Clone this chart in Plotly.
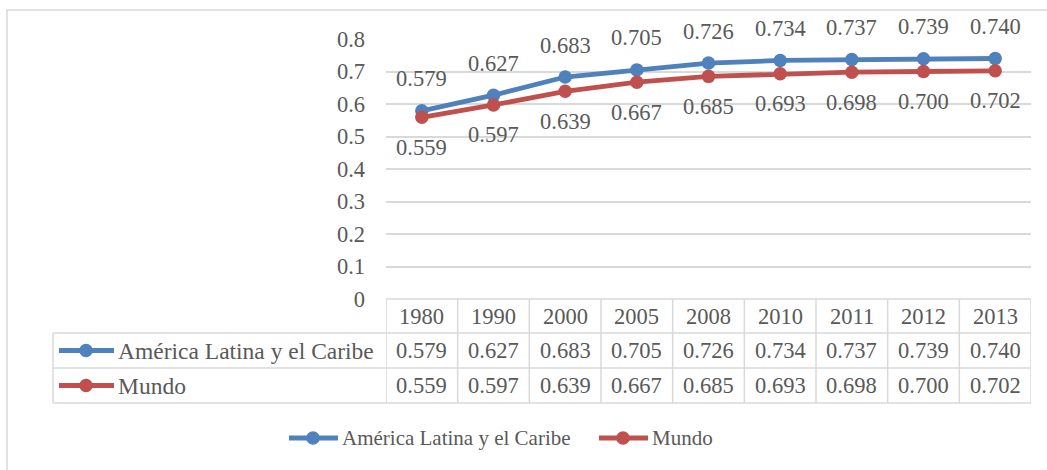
import plotly.graph_objects as go

years = ["1980", "1990", "2000", "2005", "2008", "2010", "2011", "2012", "2013"]
series_names = ["América Latina y el Caribe", "Mundo"]
latam = [0.579, 0.627, 0.683, 0.705, 0.726, 0.734, 0.737, 0.739, 0.740]
mundo = [0.559, 0.597, 0.639, 0.667, 0.685, 0.693, 0.698, 0.700, 0.702]
y_ticks = [0, 0.1, 0.2, 0.3, 0.4, 0.5, 0.6, 0.7, 0.8]

colors = ["#4F81BD", "#C0504D"]
text_color = "#595959"
grid_color = "#D9D9D9"
border_color = "#D9D9D9"
FONT = '"Liberation Serif", "Times New Roman", serif'
FS = 22.5      # axis, table and data-label text
FS_ROW = 23.5  # series names in the data table
FS_LEG = 21    # bottom legend text

W, H = 1047, 470
L, R, T, B = 386, 16, 39, 171
plot_w = W - L - R
plot_h = H - T - B


def xp(px):
    return (px - L) / plot_w


def yp(py):
    return (H - B - py) / plot_h


fig = go.Figure()
all_series = [latam, mundo]
idx = list(range(len(years)))
for name, vals, c in zip(series_names, all_series, colors):
    fig.add_trace(go.Scatter(
        x=idx, y=vals, name=name, mode="lines+markers",
        line=dict(color=c, width=4.8),
        marker=dict(color=c, size=13.5),
        customdata=years, hovertemplate="%{customdata}: %{y:.3f}<extra>" + name + "</extra>",
        cliponaxis=False, showlegend=False))

shapes = []
annotations = []


def label(x, y, text, xref="x", yref="y", yshift=0, xanchor="center", size=FS):
    annotations.append(dict(
        x=x, y=y, xref=xref, yref=yref, text=text, showarrow=False,
        xanchor=xanchor, yanchor="middle", yshift=yshift,
        font=dict(family=FONT, size=size, color=text_color)))


# data labels
shifts = [32, -30]
for vals, s in zip(all_series, shifts):
    for i, v in zip(idx, vals):
        label(i, v, f"{v:.3f}", yshift=s)

# table geometry (pixels)
row_top = H - B
row_lines = [row_top, 333, 368, 403]
left_px = 53
line_style = dict(color=border_color, width=1.5)

shapes.append(dict(type="line", xref="x", yref="paper", x0=-0.5, x1=len(years) - 0.5,
                   y0=yp(row_lines[0]), y1=yp(row_lines[0]), line=line_style))
for ry in row_lines[1:]:
    shapes.append(dict(type="line", xref="paper", yref="paper", x0=xp(left_px), x1=1,
                       y0=yp(ry), y1=yp(ry), line=line_style))
for k in range(len(years) + 1):
    shapes.append(dict(type="line", xref="x", yref="paper", x0=k - 0.5, x1=k - 0.5,
                       y0=yp(row_lines[0]), y1=yp(row_lines[-1]), line=line_style))
shapes.append(dict(type="line", xref="paper", yref="paper", x0=xp(left_px), x1=xp(left_px),
                   y0=yp(row_lines[1]), y1=yp(row_lines[-1]), line=line_style))

hc = (row_lines[0] + row_lines[1]) / 2
for i, yr in zip(idx, years):
    label(i, yp(hc), yr, yref="paper")


def legend_key(x0, x1, cmark, cy, c):
    shapes.append(dict(type="line", xref="paper", yref="paper",
                       x0=xp(x0), x1=xp(x1), y0=yp(cy), y1=yp(cy),
                       line=dict(color=c, width=4.8)))
    r = 6.8
    shapes.append(dict(type="circle", xref="paper", yref="paper",
                       x0=xp(cmark - r), x1=xp(cmark + r), y0=yp(cy + r), y1=yp(cy - r),
                       fillcolor=c, line=dict(color=c, width=0)))


for r_i, (name, vals, c) in enumerate(zip(series_names, all_series, colors)):
    cy = (row_lines[r_i + 1] + row_lines[r_i + 2]) / 2
    legend_key(59, 114, 86, cy, c)
    label(xp(116), yp(cy), name, xref="paper", yref="paper", xanchor="left", size=FS_ROW)
    for i, v in zip(idx, vals):
        label(i, yp(cy), f"{v:.3f}", yref="paper")

# bottom legend
leg_y = 438
leg_pos = [(289, 338, 313), (599, 648, 623)]
for (a, b, m), name, c in zip(leg_pos, series_names, colors):
    legend_key(a, b, m, leg_y, c)
    label(xp(b + 2), yp(leg_y), name, xref="paper", yref="paper", xanchor="left",
          size=FS_LEG)

# outer chart border (only top/left visible in the frame)
shapes.append(dict(type="rect", xref="paper", yref="paper", x0=xp(7), x1=xp(W + 20),
                   y0=yp(H + 20), y1=yp(10), line=dict(color="#D9D9D9", width=1.5),
                   layer="below"))

fig.update_layout(
    width=W, height=H,
    margin=dict(l=L, r=R, t=T, b=B, autoexpand=False),
    paper_bgcolor="white", plot_bgcolor="white",
    font=dict(family=FONT, size=FS, color=text_color),
    shapes=shapes, annotations=annotations, showlegend=False,
    xaxis=dict(range=[-0.5, len(years) - 0.5], showticklabels=False,
               showgrid=False, zeroline=False, showline=False, fixedrange=True),
    yaxis=dict(range=[0, 0.8], tickvals=y_ticks, ticktext=[f"{t:g}" for t in y_ticks],
               showgrid=True, gridcolor=grid_color, gridwidth=1.5, zeroline=False,
               showline=False, ticklabelstandoff=20,
               tickfont=dict(family=FONT, size=FS, color=text_color), fixedrange=True),
)

fig.write_html("out.html", config={"displayModeBar": False},
               post_script="document.body.style.margin='0px';")
